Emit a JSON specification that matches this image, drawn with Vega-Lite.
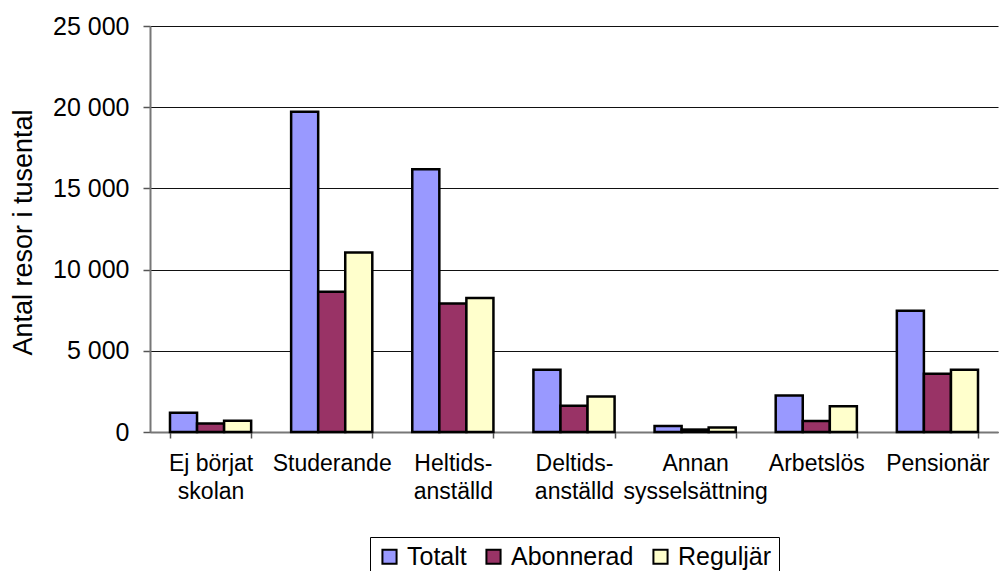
{
  "$schema": "https://vega.github.io/schema/vega-lite/v6.json",
  "autosize": {"type": "none"},
  "padding": {"left": 150, "top": 26, "right": 1, "bottom": 139},
  "width": 848,
  "height": 406,
  "background": "white",
  "config": {
    "view": {"stroke": null},
    "font": "Liberation Sans"
  },
  "data": {
    "values": [
      {"kategori": "Ej börjat skolan", "serie": "Totalt", "resor": 1190},
      {"kategori": "Ej börjat skolan", "serie": "Abonnerad", "resor": 530},
      {"kategori": "Ej börjat skolan", "serie": "Reguljär", "resor": 700},
      {"kategori": "Studerande", "serie": "Totalt", "resor": 19720},
      {"kategori": "Studerande", "serie": "Abonnerad", "resor": 8640},
      {"kategori": "Studerande", "serie": "Reguljär", "resor": 11060},
      {"kategori": "Heltids-anställd", "serie": "Totalt", "resor": 16180},
      {"kategori": "Heltids-anställd", "serie": "Abonnerad", "resor": 7920},
      {"kategori": "Heltids-anställd", "serie": "Reguljär", "resor": 8250},
      {"kategori": "Deltids-anställd", "serie": "Totalt", "resor": 3830},
      {"kategori": "Deltids-anställd", "serie": "Abonnerad", "resor": 1620},
      {"kategori": "Deltids-anställd", "serie": "Reguljär", "resor": 2190},
      {"kategori": "Annan sysselsättning", "serie": "Totalt", "resor": 370},
      {"kategori": "Annan sysselsättning", "serie": "Abonnerad", "resor": 150},
      {"kategori": "Annan sysselsättning", "serie": "Reguljär", "resor": 270},
      {"kategori": "Arbetslös", "serie": "Totalt", "resor": 2250},
      {"kategori": "Arbetslös", "serie": "Abonnerad", "resor": 680},
      {"kategori": "Arbetslös", "serie": "Reguljär", "resor": 1580},
      {"kategori": "Pensionär", "serie": "Totalt", "resor": 7460},
      {"kategori": "Pensionär", "serie": "Abonnerad", "resor": 3590},
      {"kategori": "Pensionär", "serie": "Reguljär", "resor": 3830}
    ]
  },
  "mark": {"type": "bar", "stroke": "black", "strokeWidth": 2.5, "strokeJoin": "miter"},
  "encoding": {
    "x": {
      "field": "kategori",
      "type": "nominal",
      "sort": null,
      "scale": {"paddingInner": 0.33, "paddingOuter": 0.165},
      "axis": {
        "title": null,
        "labelAngle": 0,
        "labelFontSize": 23,
        "labelColor": "black",
        "labelPadding": 14,
        "labelLineHeight": 28,
        "labelBaseline": "top",
        "labelExpr": "datum.label == 'Ej börjat skolan' ? ['Ej börjat', 'skolan'] : datum.label == 'Heltids-anställd' ? ['Heltids-', 'anställd'] : datum.label == 'Deltids-anställd' ? ['Deltids-', 'anställd'] : datum.label == 'Annan sysselsättning' ? ['Annan', 'sysselsättning'] : datum.label",
        "tickBand": "extent",
        "tickSize": 6,
        "tickColor": "#555",
        "tickWidth": 1.5,
        "domainColor": "#777",
        "domainWidth": 2,
        "grid": false
      }
    },
    "xOffset": {
      "field": "serie",
      "type": "nominal",
      "sort": ["Totalt", "Abonnerad", "Reguljär"],
      "scale": {"paddingInner": 0, "paddingOuter": 0}
    },
    "y": {
      "field": "resor",
      "type": "quantitative",
      "scale": {"domain": [0, 25000], "nice": false},
      "axis": {
        "title": "Antal resor i tusental",
        "titleFontSize": 27,
        "titleFontWeight": "normal",
        "titleColor": "black",
        "titleAngle": 270,
        "titleX": -127,
        "titleY": 206,
        "titleAlign": "center",
        "titleBaseline": "middle",
        "values": [0, 5000, 10000, 15000, 20000, 25000],
        "labelExpr": "replace(format(datum.value, ','), ',', '\u00a0')",
        "labelFontSize": 25,
        "labelColor": "black",
        "labelPadding": 14,
        "tickSize": 7,
        "tickColor": "#555",
        "tickWidth": 1.5,
        "domainColor": "#777",
        "domainWidth": 2,
        "grid": true,
        "gridColor": "#111",
        "gridWidth": 1.2
      }
    },
    "color": {
      "field": "serie",
      "type": "nominal",
      "sort": ["Totalt", "Abonnerad", "Reguljär"],
      "scale": {
        "domain": ["Totalt", "Abonnerad", "Reguljär"],
        "range": ["#9999FF", "#993366", "#FFFFCC"]
      },
      "legend": {
        "title": null,
        "orient": "none",
        "direction": "horizontal",
        "legendX": 220,
        "legendY": 511,
        "strokeColor": "black",
        "padding": 7,
        "symbolType": "square",
        "symbolSize": 200,
        "symbolStrokeColor": "black",
        "symbolStrokeWidth": 2,
        "symbolOpacity": 1,
        "labelFontSize": 25,
        "labelColor": "black",
        "labelOffset": 5,
        "columnPadding": 14
      }
    }
  }
}
